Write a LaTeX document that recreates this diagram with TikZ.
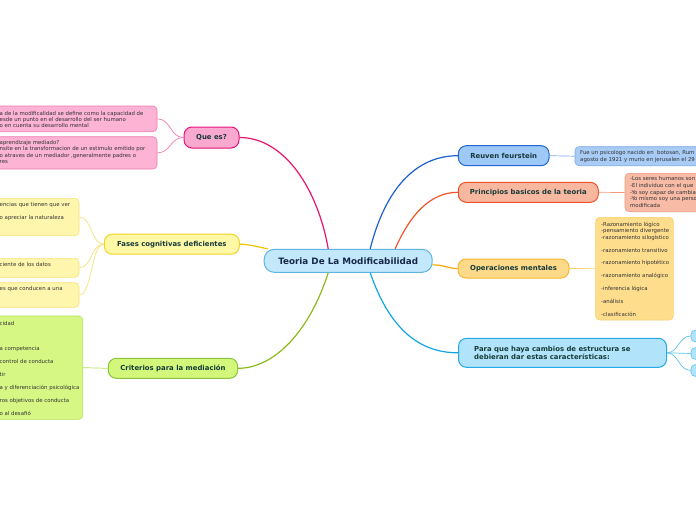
\documentclass[tikz,border=0pt]{standalone}
\usepackage{fontspec}
\setmainfont{DejaVu Sans}
\usetikzlibrary{calc}
\definecolor{maintext}{HTML}{163A3A}
\definecolor{centertext}{HTML}{16284A}
\definecolor{smalltext}{HTML}{333333}
\definecolor{cfill}{HTML}{C4E8FB}\definecolor{cdraw}{HTML}{5FB3E0}
\definecolor{pkfill}{HTML}{F9A8CF}\definecolor{pkdraw}{HTML}{E5157A}\definecolor{pkline}{HTML}{E8156F}
\definecolor{pkbox}{HTML}{FCB3D4}\definecolor{pkboxd}{HTML}{F37BB3}
\definecolor{ylfill}{HTML}{FFF8A6}\definecolor{yldraw}{HTML}{F0D42A}\definecolor{ylline}{HTML}{F2C300}
\definecolor{ylbox}{HTML}{FFF6AD}\definecolor{ylboxd}{HTML}{F6E27A}
\definecolor{grfill}{HTML}{D3F77A}\definecolor{grdraw}{HTML}{8AC43F}\definecolor{grline}{HTML}{8DBB1C}
\definecolor{grbox}{HTML}{D6F784}\definecolor{grboxd}{HTML}{B6E05A}
\definecolor{blfill}{HTML}{9EC8F6}\definecolor{bldraw}{HTML}{2266D0}\definecolor{blline}{HTML}{1C5FCF}
\definecolor{blbox}{HTML}{A8CCF5}\definecolor{blboxd}{HTML}{7EA9EA}
\definecolor{safill}{HTML}{F8B8A0}\definecolor{sadraw}{HTML}{F0522A}\definecolor{saline}{HTML}{F0552A}
\definecolor{sabox}{HTML}{F8BCA6}\definecolor{saboxd}{HTML}{F3987D}
\definecolor{orfill}{HTML}{FDD98A}\definecolor{ordraw}{HTML}{F5B731}\definecolor{orline}{HTML}{F5A800}
\definecolor{orbox}{HTML}{FEDD8D}\definecolor{orboxd}{HTML}{F8D070}
\definecolor{cyfill}{HTML}{B1E4FA}\definecolor{cydraw}{HTML}{22A9E6}\definecolor{cyline}{HTML}{11A5E3}
\definecolor{cyboxd}{HTML}{5FC3EE}
\begin{document}
\begin{tikzpicture}[x=1pt,y=-1pt,
  mainbox/.style={draw, line width=1pt, rounded corners=8pt, inner sep=0pt,
    font=\bfseries\fontsize{6.9}{8.4}\selectfont, text=maintext},
  tbox/.style={draw, line width=0.6pt, rounded corners=4pt, inner sep=0pt},
  ttext/.style={inner sep=0pt, align=left, anchor=north west,
    font=\fontsize{5.4}{6.45}\selectfont, text=smalltext},
  link/.style={line width=1.2pt},
  thin/.style={line width=0.7pt}]
\clip (0,0) rectangle (696,520);
\fill[white] (0,0) rectangle (696,520);

% center
\node[draw=cdraw, fill=cfill, line width=1pt, rounded corners=10pt, inner sep=0pt,
  minimum width=168pt, minimum height=23pt, text=centertext,
  font=\bfseries\fontsize{8.8}{10}\selectfont] (c) at (348.2,260.8) {Teoria De La Modificabilidad};

% ---------- left: Que es?
\node[mainbox, fill=pkfill, draw=pkdraw, minimum width=55pt, minimum height=21pt] (que) at (211.5,137.5) {Que es?};
\node[tbox, fill=pkbox, draw=pkboxd, minimum width=167pt, minimum height=25.7pt] (p1) at (73.5,118.85) {};
\node[tbox, fill=pkbox, draw=pkboxd, minimum width=167pt, minimum height=32.3pt] (p2) at (73.5,152.85) {};
\node[ttext] (p1t) at (-0.5,110.7) {a de la modificalidad se define como la capacidad de\\esde un punto en el desarrollo del ser humano\\o en cuenta su desarrollo mental};
\node[ttext] (p2t) at (-0.5,140.1) {aprendizaje mediado?\\nsite en la transformacion de un estimulo emitido por\\o atraves de un mediador ,generalmente padres o\\res};

% ---------- left: Fases
\node[mainbox, fill=ylfill, draw=yldraw, minimum width=135pt, minimum height=20pt] (fa) at (171.8,244.2) {Fases cognitivas deficientes};
\node[tbox, fill=ylbox, draw=ylboxd, minimum width=89pt, minimum height=37.4pt] (y1) at (34.5,217) {};
\node[tbox, fill=ylbox, draw=ylboxd, minimum width=89pt, minimum height=19pt] (y2) at (34.5,267.8) {};
\node[tbox, fill=ylbox, draw=ylboxd, minimum width=89pt, minimum height=24.6pt] (y3) at (34.5,295) {};
\node[ttext] (y1t) at (-0.5,202.1) {encias que tienen que ver\\[6.45pt]o apreciar la naturaleza};
\node[ttext] (y2t) at (-0.5,262.4) {ciente de los datos};
\node[ttext] (y3t) at (-0.5,286.4) {es que conducen a una};

% ---------- left: Criterios
\node[mainbox, fill=grfill, draw=grdraw, minimum width=129.4pt, minimum height=20pt] (cr) at (173,368.3) {Criterios para la mediación};
\node[tbox, fill=grbox, draw=grboxd, minimum width=92.7pt, minimum height=103.3pt] (g1) at (36.35,367.65) {};
\node[ttext] (g1t) at (-0.5,320.7) {cidad\\[19.35pt]a competencia\\[6.45pt]control de conducta\\[6.45pt]tir\\[6.45pt]a y diferenciación psicológica\\[6.45pt]ros objetivos de conducta\\[6.45pt]o al desafió};

% ---------- right: Reuven
\node[mainbox, fill=blfill, draw=bldraw, minimum width=90.7pt, minimum height=20pt] (re) at (503.7,155.7) {Reuven feurstein};
\node[tbox, fill=blbox, draw=blboxd, minimum width=140pt, minimum height=19pt] (b1) at (645,156.2) {};
\node[ttext, font=\fontsize{5.4}{7}\selectfont] (b1t) at (580,150.1) {Fue un psicologo nacido en\ \ botosan, Rum\\agosto de 1921 y murio en jerusalen el 29};

% ---------- right: Principios
\node[mainbox, fill=safill, draw=sadraw, minimum width=140pt, minimum height=20pt] (pr) at (528.3,192.3) {Principios basicos de la teoria};
\node[tbox, fill=sabox, draw=saboxd, minimum width=90pt, minimum height=38.4pt] (sa) at (670,192.5) {};
\node[ttext, font=\fontsize{5.4}{6.7}\selectfont] (sat) at (630,176.4) {-Los seres humanos son\\-El individuo con el que\\-Yo soy capaz de cambiar\\-Yo mismo soy una persona\\modificada};

% ---------- right: Operaciones
\node[mainbox, fill=orfill, draw=ordraw, minimum width=111pt, minimum height=19pt] (op) at (513.5,268.5) {Operaciones mentales};
\node[tbox, fill=orbox, draw=orboxd, minimum width=77.6pt, minimum height=102.7pt] (ob) at (634.5,268.65) {};
\node[ttext] (obt) at (601,221.7) {-Razonamiento lógico\\-pensamiento divergente\\-razonamiento silogístico\\[6.45pt]-razonamiento transitivo\\[6.45pt]-razonamiento hipotético\\[6.45pt]-razonamiento analógico\\[6.45pt]-inferencia lógica\\[6.45pt]-análisis\\[6.45pt]-clasificación};

% ---------- right: Para que
\node[mainbox, fill=cyfill, draw=cydraw, minimum width=208pt, minimum height=29pt] (pq) at (562.5,352.8) {};
\node[inner sep=0pt, align=left, anchor=west, font=\bfseries\fontsize{6.9}{8.4}\selectfont, text=maintext] (pqt) at ([xshift=16pt]pq.west) {Para que haya cambios de estructura se\\debieran dar estas características:};
\node[tbox, fill=cyfill, draw=cyboxd, minimum width=20pt, minimum height=11.5pt] (s1) at (701,336) {};
\node[tbox, fill=cyfill, draw=cyboxd, minimum width=20pt, minimum height=11.5pt] (s2) at (701,353.5) {};
\node[tbox, fill=cyfill, draw=cyboxd, minimum width=20pt, minimum height=11.5pt] (s3) at (701,370.5) {};

% ---------- main connectors
\begin{scope}[on background layer/.try]
\end{scope}
\draw[link, pkline] ([xshift=-20pt]c.north) .. controls (318,190) and (285,137.5) .. (que.east);
\draw[link, ylline] ([xshift=4pt]c.north west) .. controls (258,247) and (250,244.2) .. (fa.east);
\draw[link, grline] ([xshift=-20pt]c.south) .. controls (310,330) and (275,368.3) .. (cr.east);
\draw[link, blline] ([xshift=22pt]c.north) .. controls (385,190) and (415,155.7) .. (re.west);
\draw[link, saline] ([xshift=47pt]c.north) .. controls (410,215) and (430,192.3) .. (pr.west);
\draw[link, orline] ([yshift=-4pt]c.east) .. controls (445,265) and (448,268.5) .. (op.west);
\draw[link, cyline] ([xshift=22pt]c.south) .. controls (390,330) and (420,352.8) .. (pq.west);

% ---------- secondary connectors
\draw[thin, pkboxd] (que.west) .. controls (170,137.5) and (171,118.85) .. (p1.east);
\draw[thin, pkboxd] (que.west) .. controls (170,137.5) and (171,152.85) .. (p2.east);
\draw[thin, ylboxd] (fa.west) .. controls (91,244.2) and (92,217) .. (y1.east);
\draw[thin, ylboxd] (fa.west) .. controls (91,244.2) and (92,267.8) .. (y2.east);
\draw[thin, ylboxd] (fa.west) .. controls (91,244.2) and (92,295) .. (y3.east);
\draw[thin, grboxd] (cr.west) -- (g1.east);
\draw[thin, blboxd] (re.east) -- (b1.west);
\draw[thin, saboxd] (pr.east) -- (sa.west);
\draw[thin, orboxd] (op.east) -- (ob.west);
\draw[thin, cyboxd] (pq.east) .. controls (678,352.8) and (679,336) .. (s1.west);
\draw[thin, cyboxd] (pq.east) -- (s2.west);
\draw[thin, cyboxd] (pq.east) .. controls (678,352.8) and (679,370.5) .. (s3.west);
\end{tikzpicture}
\end{document}
